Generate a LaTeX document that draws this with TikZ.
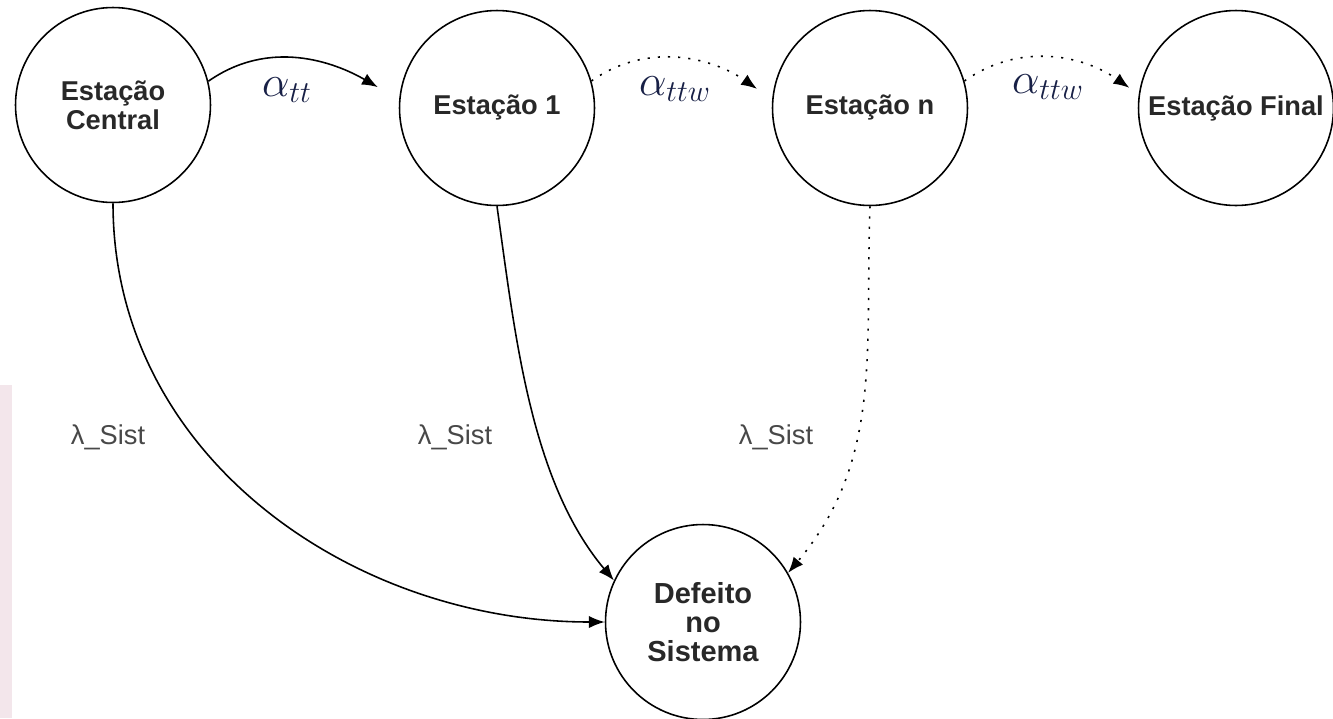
\documentclass[tikz,border=0pt]{standalone}
\usepackage{fontspec}
\setmainfont{Liberation Sans}
\usepackage{tikz}
\usetikzlibrary{arrows.meta}

\definecolor{bandpink}{RGB}{243,230,235}
\definecolor{ratenavy}{RGB}{24,32,70}
\definecolor{txtgray}{RGB}{40,40,40}

\begin{document}
\begin{tikzpicture}[x=0.02cm, y=-0.02cm,
  estado/.style={circle, draw=black, line width=0.9pt, minimum size=3.9cm, inner sep=0pt,
    align=center, font=\fontsize{15.5}{16.5}\selectfont\bfseries, text=txtgray},
  taxa/.style={font=\fontsize{15.5}{17}\selectfont, text=txtgray!85},
  alfa/.style={font=\fontsize{23}{25}\selectfont, text=ratenavy},
  liga/.style={line width=0.9pt, -{Latex[length=9pt,width=7pt]}},
  pont/.style={liga, dash pattern=on 1.2pt off 4.6pt}]
\useasboundingbox (0,0) rectangle (1333,718);
\fill[bandpink] (0,385) rectangle (12,718);

\node[estado] (central) at (113,105) {Estação\\Central};
\node[estado] (est1) at (497,108) {Estação 1};
\node[estado] (estn) at (870,108) {Estação n};
\node[estado] (final) at (1236,108) {Estação Final};
\node[estado, font=\fontsize{16.5}{16.5}\selectfont\bfseries] (defeito) at (703,622) {Defeito\\no\\Sistema};

\draw[liga, shorten >=14pt] (central.14) to[out=35,in=150] (est1.175);
\draw[pont, shorten >=10.5pt] (est1.16) to[out=35,in=145] (estn.175);
\draw[pont, shorten >=6.5pt] (estn.16) to[out=35,in=145] (final.172);

\node[alfa] (a1) at (287,90) {$\alpha_{tt}$};
\node[alfa] (a2) at (675,89) {$\alpha_{ttw}$};
\node[alfa] (a3) at (1048,87) {$\alpha_{ttw}$};

\draw[liga] (central.south) to[out=-90,in=180] (defeito.west);
\draw[liga] (est1.south) to[out=-82,in=130,looseness=0.85] (defeito.155);
\draw[pont] (estn.south) to[out=-92,in=50] (defeito.30);

\node[taxa] (l1) at (108,437) {λ\_Sist};
\node[taxa] (l2) at (455,437) {λ\_Sist};
\node[taxa] (l3) at (776,437) {λ\_Sist};
\end{tikzpicture}
\end{document}
